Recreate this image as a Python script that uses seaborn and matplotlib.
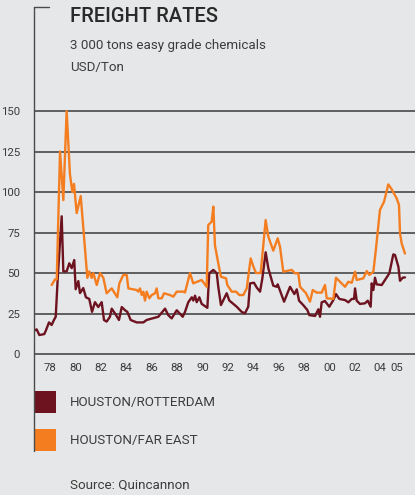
import numpy as np
import pandas as pd
import matplotlib
matplotlib.use("Agg")
import matplotlib.pyplot as plt
from matplotlib.lines import Line2D
from matplotlib.patches import Rectangle
import seaborn as sns

# Houston/Rotterdam freight rate, USD per ton
rot_year = [1976.74, 1976.95, 1977.16, 1977.55, 1977.69, 1977.92, 1978.13, 1978.31, 1978.45,
            1978.63, 1978.92, 1979.05, 1979.31, 1979.52, 1979.71, 1979.91, 1980.02, 1980.23,
            1980.36, 1980.62, 1980.83, 1981.09, 1981.31, 1981.54, 1981.80, 1982.07, 1982.25,
            1982.46, 1982.72, 1982.86, 1983.12, 1983.43, 1983.65, 1983.91, 1984.09, 1984.35,
            1984.83, 1985.35, 1985.61, 1986.53, 1987.06, 1987.31, 1987.58, 1987.98, 1988.45,
            1988.63, 1988.89, 1989.16, 1989.28, 1989.42, 1989.55, 1989.76, 1989.94, 1990.39,
            1990.54, 1990.86, 1991.13, 1991.25, 1991.46, 1991.91, 1992.12, 1992.70, 1993.09,
            1993.35, 1993.61, 1993.75, 1994.06, 1994.28, 1994.54, 1994.72, 1994.98, 1995.19,
            1995.58, 1995.85, 1995.93, 1996.43, 1996.90, 1997.24, 1997.43, 1997.61, 1997.94,
            1998.26, 1998.42, 1998.87, 1999.13, 1999.26, 1999.39, 1999.65, 1999.99, 2000.31,
            2000.52, 2000.78, 2001.23, 2001.49, 2001.76, 2001.94, 2002.02, 2002.15, 2002.41,
            2002.80, 2003.02, 2003.25, 2003.33, 2003.46, 2003.59, 2003.72, 2004.12, 2004.72,
            2005.03, 2005.17, 2005.43, 2005.56, 2005.77, 2005.95]
rot_rate = [14.4, 15.2, 11.7, 12.3, 14.8, 19.5, 17.9, 21, 23,
            50, 85, 51, 51, 56, 53, 58, 40, 45,
            37.6, 40.7, 35, 34, 26, 32, 29, 32, 21,
            20, 23, 28, 25, 21, 29, 27, 26, 21,
            19.5, 19.5, 21, 23, 28, 24, 22, 27, 23,
            26, 32, 35, 33, 36, 32, 35, 31, 28.5,
            49.8, 51.9, 49.8, 41.5, 30.2, 37.5, 33, 29.2, 26,
            25.1, 29.2, 43.6, 44, 41, 38.5, 46.7, 62.8, 52.9,
            42.2, 41.5, 43, 32.3, 41.5, 37, 39.9, 32.9, 30.2,
            27.2, 24, 23.5, 27.6, 23, 31.9, 32.7, 29.2, 33.3,
            37, 34, 33.3, 31.9, 34, 34, 40.5, 32.9, 30.9,
            31.3, 32.9, 29.2, 43.6, 39.5, 47.1, 43, 42.6, 49.8,
            61.5, 61.1, 53.9, 45.2, 47.1, 47.3]

# Houston/Far East freight rate, USD per ton
fe_year = [1978.13, 1978.39, 1978.53, 1978.79, 1979.05, 1979.31, 1979.57, 1979.76, 1979.89,
           1980.10, 1980.42, 1980.94, 1981.09, 1981.28, 1981.41, 1981.68, 1981.94, 1982.20,
           1982.46, 1982.86, 1983.30, 1983.46, 1983.77, 1984.04, 1984.17, 1984.83, 1984.95,
           1985.09, 1985.22, 1985.35, 1985.48, 1985.61, 1985.82, 1986.01, 1986.27, 1986.40,
           1986.53, 1986.80, 1986.98, 1987.45, 1987.71, 1987.98, 1988.50, 1988.63, 1989.02,
           1989.28, 1989.94, 1990.34, 1990.46, 1990.73, 1990.86, 1990.99, 1991.25, 1991.46,
           1991.86, 1991.96, 1992.31, 1992.65, 1992.91, 1993.22, 1993.49, 1993.80, 1994.01,
           1994.22, 1994.59, 1994.98, 1995.19, 1995.58, 1995.93, 1996.11, 1996.37, 1997.03,
           1997.29, 1997.55, 1997.69, 1998.16, 1998.47, 1998.69, 1999.00, 1999.39, 1999.65,
           1999.79, 2000.31, 2000.52, 2001.23, 2001.49, 2001.76, 2002.02, 2002.15, 2002.67,
           2002.94, 2003.14, 2003.46, 2003.67, 2003.98, 2004.30, 2004.64, 2004.91, 2005.30,
           2005.48, 2005.56, 2005.69, 2005.95]
fe_rate = [42.6, 46, 46, 125, 95, 150, 111, 100, 105,
           87, 97.5, 47, 51, 47, 50, 42.6, 50, 47,
           37.5, 40.5, 35, 43.6, 48.8, 48.8, 40.5, 39.5, 38.5,
           40.5, 36.4, 38.5, 33, 38.5, 34.4, 36.4, 37.5, 40.5,
           34.4, 34.4, 37.5, 36.4, 35.4, 38.5, 38.5, 38, 50,
           43.6, 45.7, 41.5, 79.6, 81.7, 91, 67, 56, 47.7,
           46.7, 42.6, 38.5, 38.5, 36.4, 36.4, 40.5, 59, 54,
           50, 50, 82.7, 72.4, 63.8, 71.4, 66.2, 50.8, 51.9,
           49.8, 49.8, 41.5, 37.5, 32.3, 39.5, 37.9, 37.9, 42.6,
           34.4, 34, 47.1, 41.5, 44.6, 44, 50.8, 45.7, 46.7,
           51.2, 48.8, 50.8, 65.2, 88.9, 94, 104.7, 101.6, 96,
           92, 74.5, 68.3, 62]

series_names = ["HOUSTON/ROTTERDAM", "HOUSTON/FAR EAST"]
series_colors = ["#6d1320", "#f47d20"]

y_ticks = [0, 25, 50, 75, 100, 125, 150]
x_tick_pos = [1978, 1980, 1982, 1984, 1986, 1988, 1990, 1992, 1994, 1996, 1998,
              2000, 2002, 2004, 2005.3]
x_tick_labels = ["78", "80", "82", "84", "86", "88", "90", "92", "94", "96", "98",
                 "00", "02", "04", "05"]

df = pd.concat([
    pd.DataFrame({"year": rot_year, "rate": rot_rate, "route": series_names[0]}),
    pd.DataFrame({"year": fe_year, "rate": fe_rate, "route": series_names[1]}),
])

sns.set_style("white")
plt.rcParams["font.family"] = ["Roboto", "DejaVu Sans"]

BG = "#e6e7e8"
TXT = "#3c3c3c"
W, H = 415, 495
fig = plt.figure(figsize=(W / 100, H / 100), dpi=100, facecolor=BG)

ax_left, ax_top, ax_bot = 34, 100, 360
ax = fig.add_axes([ax_left / W, 1 - ax_bot / H, 1 - ax_left / W, (ax_bot - ax_top) / H])
ax.set_facecolor(BG)

sns.lineplot(data=df, x="year", y="rate", hue="route", palette=series_colors,
             hue_order=series_names, linewidth=1.7, legend=False, ax=ax,
             estimator=None, sort=False)

ax.set_xlim(1976.74, 2006.74)
ax.set_ylim(-3.7, 156.8)
ax.set_yticks(y_ticks)
ax.set_xticks(x_tick_pos)
ax.set_xticklabels(x_tick_labels)
ax.set_xlabel("")
ax.set_ylabel("")
ax.yaxis.grid(True, color="#3a3a3a", linewidth=1.1)
ax.xaxis.grid(False)
ax.set_axisbelow(True)
for s in ax.spines.values():
    s.set_visible(False)
ax.tick_params(axis="y", length=0, pad=10, labelsize=8.2, labelcolor=TXT)
ax.tick_params(axis="x", length=0, pad=2, labelsize=8.2, labelcolor=TXT)

# Bracket: vertical rule down the left with a short cap at the top
fig.add_artist(Line2D([34 / W, 34 / W], [1 - 7 / H, 1 - 451 / H], color="#4a4a4a",
                      linewidth=1.0, transform=fig.transFigure))
fig.add_artist(Line2D([34 / W, 49 / W], [1 - 7 / H, 1 - 7 / H], color="#4a4a4a",
                      linewidth=1.0, transform=fig.transFigure))

fig.text(70 / W, 1 - 22 / H, "FREIGHT RATES", fontsize=14.5, color="#2a2a2a",
         fontweight="medium", va="baseline", ha="left")
fig.text(70 / W, 1 - 49 / H, "3 000 tons easy grade chemicals", fontsize=9.6,
         color=TXT, va="baseline", ha="left")
fig.text(70 / W, 1 - 71 / H, "USD/Ton", fontsize=9.6, color=TXT, va="baseline", ha="left")

# Legend swatches and labels
for name, col, top, base in zip(series_names, series_colors, [391, 429], [406, 444]):
    fig.add_artist(Rectangle((34 / W, 1 - (top + 22) / H), 22 / W, 22 / H,
                             facecolor=col, edgecolor="none", transform=fig.transFigure))
    fig.text(70 / W, 1 - base / H, name, fontsize=9.6, color=TXT, va="baseline", ha="left")

fig.text(70 / W, 1 - 489 / H, "Source: Quincannon", fontsize=9.6, color=TXT,
         va="baseline", ha="left")

fig.savefig("out.png", dpi=100, facecolor=BG)
